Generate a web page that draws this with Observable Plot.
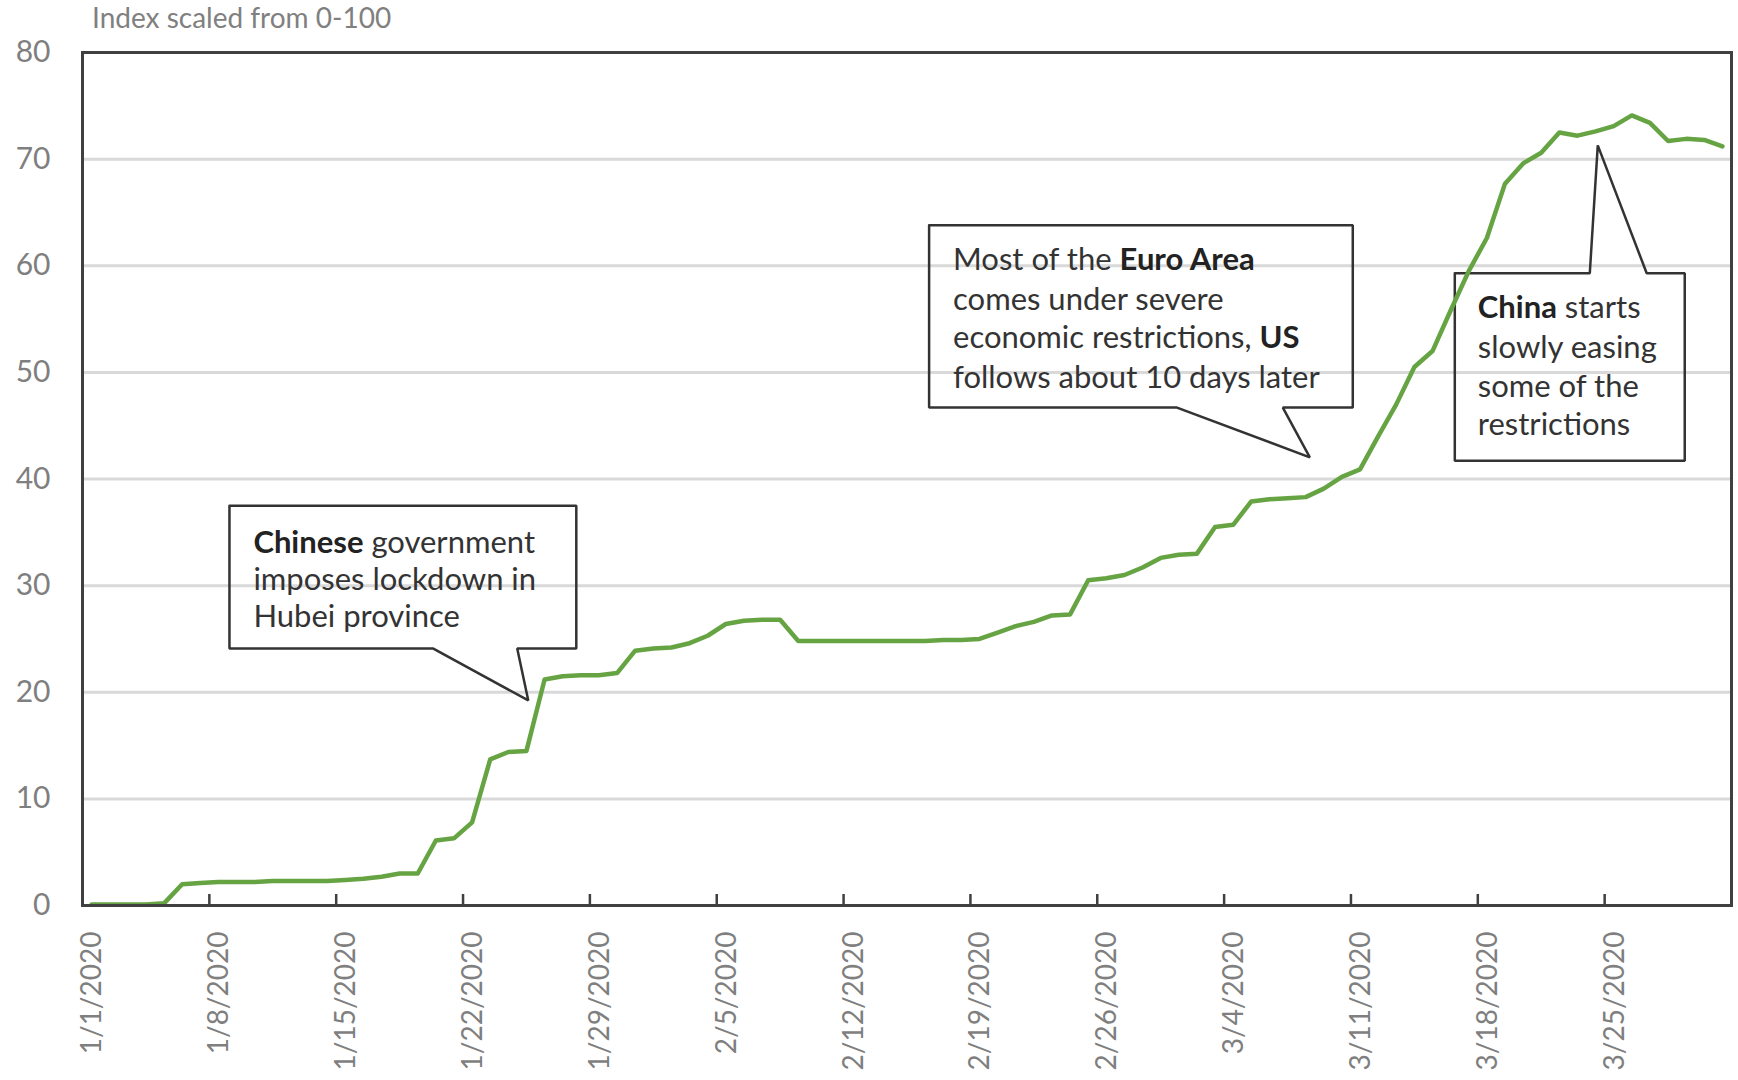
<!DOCTYPE html>
<html><head><meta charset="utf-8">
<script src="https://cdn.jsdelivr.net/npm/d3@7"></script>
<script src="https://cdn.jsdelivr.net/npm/@observablehq/plot@0.6"></script>
<style>
html,body{margin:0;padding:0;background:#fff;}
#wrap{position:relative;width:1738px;height:1080px;overflow:hidden;}
#sub{position:absolute;left:92px;top:0px;font-family:Lato,sans-serif;font-size:28px;color:#808080;white-space:nowrap;}
#chart{position:absolute;left:0;top:0;}
</style></head><body>
<div id="wrap"><div id="chart"></div><div id="sub">Index scaled from 0-100</div></div>
<script>
// ---- data ----
const startDate = "2020-01-01";
const endDate = "2020-04-01";
// daily index values, 1/1/2020 .. 3/31/2020
const values = [
  0.1, 0.1, 0.1, 0.1, 0.2, 2.0, 2.1, 2.2, 2.2, 2.2,
  2.3, 2.3, 2.3, 2.3, 2.4, 2.5, 2.7, 3.0, 3.0, 6.1,
  6.3, 7.8, 13.7, 14.4, 14.5, 21.2, 21.5, 21.6, 21.6, 21.8,
  23.9, 24.1, 24.2, 24.6, 25.3, 26.4, 26.7, 26.8, 26.8, 24.8,
  24.8, 24.8, 24.8, 24.8, 24.8, 24.8, 24.8, 24.9, 24.9, 25.0,
  25.6, 26.2, 26.6, 27.2, 27.3, 30.5, 30.7, 31.0, 31.7, 32.6,
  32.9, 33.0, 35.5, 35.7, 37.9, 38.1, 38.2, 38.3, 39.1, 40.2,
  40.9, 44.0, 47.0, 50.5, 52.0, 55.8, 59.5, 62.6, 67.7, 69.6,
  70.6, 72.5, 72.2, 72.6, 73.1, 74.1, 73.4, 71.7, 71.9, 71.8,
  71.2
];
const xTickLabels = ["1/1/2020","1/8/2020","1/15/2020","1/22/2020","1/29/2020","2/5/2020","2/12/2020","2/19/2020","2/26/2020","3/4/2020","3/11/2020","3/18/2020","3/25/2020"];
const yTicks = [0, 10, 20, 30, 40, 50, 60, 70, 80];
const gridTicks = [10, 20, 30, 40, 50, 60, 70];

// callouts (positions in data space: days after 1/1/2020, index value)
const calloutBoxLeft   = [8.11, 46.72, 75.73];
const calloutBoxRight  = [27.25, 70.10, 88.42];
const calloutBoxTop    = [37.5, 63.8, 59.3];
const calloutBoxBottom = [24.1, 46.7, 41.7];
const calloutPointerSide = ["bottom", "bottom", "top"];
const calloutPointerBase = [[19.36, 23.99], [60.40, 66.24], [83.18, 86.32]];
const calloutTip = [[24.60, 19.23], [67.73, 42.03], [83.62, 71.29]];
const calloutText = [
  ["**Chinese** government", "imposes lockdown in", "Hubei province"],
  ["Most of the **Euro Area**", "comes under severe", "economic restrictions, **US**", "follows about 10 days later"],
  ["**China** starts", "slowly easing", "some of the", "restrictions"]
];
const calloutTextX = [9.43, 48.04, 77.0];
const calloutTextY = [[33.96, 30.49, 27.02], [60.51, 56.75, 53.19, 49.44], [56.0, 52.25, 48.59, 45.03]];

// ---- build ----
const parseDay = d3.utcParse("%Y-%m-%d");
const start = parseDay(startDate);
const end = parseDay(endDate);
const dayToDate = (d) => new Date(start.getTime() + d * 864e5);
const series = values.map((v, i) => ({date: d3.utcDay.offset(start, i), value: v}));
const parseTick = d3.utcParse("%m/%d/%Y");
const xTicks = xTickLabels.map(parseTick);
const fmt = d3.utcFormat("%-m/%-d/%Y");

const outline = [];
calloutBoxLeft.forEach((l, k) => {
  const r = calloutBoxRight[k], t = calloutBoxTop[k], b = calloutBoxBottom[k];
  const [bl, br] = calloutPointerBase[k];
  const [tx, ty] = calloutTip[k];
  let pts;
  if (calloutPointerSide[k] === "bottom") {
    pts = [[l, t], [r, t], [r, b], [br, b], [tx, ty], [bl, b], [l, b], [l, t]];
  } else {
    pts = [[l, t], [bl, t], [tx, ty], [br, t], [r, t], [r, b], [l, b], [l, t]];
  }
  pts.forEach(([x, y]) => outline.push({id: k, x: dayToDate(x), y}));
});
const textRows = [];
calloutText.forEach((lines, k) => lines.forEach((s, j) => textRows.push({
  raw: s, plain: s.replace(/\*\*/g, ""), x: dayToDate(calloutTextX[k]), y: calloutTextY[k][j]
})));

const chart = Plot.plot({
  width: 1738,
  height: 1080,
  marginLeft: 82,
  marginRight: 7,
  marginTop: 52,
  marginBottom: 175,
  style: {fontFamily: "Lato, sans-serif", background: "white", overflow: "visible"},
  x: {type: "utc", domain: [start, end]},
  y: {domain: [0, 80]},
  marks: [
    Plot.gridY(gridTicks, {stroke: "#d9d9d9", strokeWidth: 3, strokeOpacity: 1}),
    Plot.line(outline, {x: "x", y: "y", z: "id", fill: "none", stroke: "#333333", strokeWidth: 2.5, strokeLinejoin: "miter", curve: "linear"}),
    Plot.text(textRows, {x: "x", y: "y", text: "plain", textAnchor: "start", lineAnchor: "middle", fontSize: 31, fill: "#333333"}),
    Plot.line(series, {x: (d) => new Date(d.date.getTime() + 12 * 3600e3), y: "value", stroke: "#66a443", strokeWidth: 4.5, strokeLinejoin: "round"}),
    Plot.frame({stroke: "#404040", strokeWidth: 3}),
    Plot.axisY({ticks: yTicks, tickSize: 0, tickPadding: 32, fontSize: 30, fill: "#7f7f7f", label: null}),
    Plot.axisX({ticks: xTicks, tickFormat: () => "", tickSize: -11, stroke: "#404040", strokeWidth: 2.5, label: null}),
    Plot.axisX({ticks: xTicks, tickFormat: fmt, tickRotate: -90, tickSize: 0, tickPadding: 26, dx: 10, fontSize: 28, fill: "#7f7f7f", label: null})
  ]
});
document.getElementById("chart").appendChild(chart);

// bold segments in callout text
const rowByPlain = new Map(textRows.filter((r) => r.raw.includes("**")).map((r) => [r.plain, r]));
chart.querySelectorAll("text").forEach((el) => {
  const row = rowByPlain.get(el.textContent);
  if (!row) return;
  el.textContent = "";
  row.raw.split("**").forEach((seg, j) => {
    if (!seg) return;
    const ts = document.createElementNS("http://www.w3.org/2000/svg", "tspan");
    ts.textContent = seg;
    if (j % 2 === 1) { ts.setAttribute("font-weight", "bold"); ts.setAttribute("fill", "#222222"); }
    el.appendChild(ts);
  });
});
</script>
</body></html>
